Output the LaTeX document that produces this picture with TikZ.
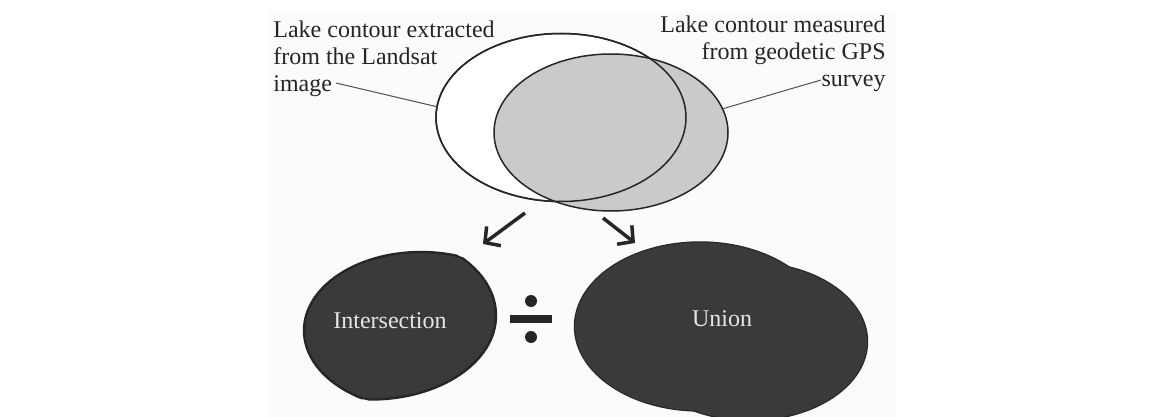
\documentclass[tikz,border=0pt]{standalone}
\usepackage{fontspec}
\setmainfont{Liberation Serif}
\usetikzlibrary{shapes.geometric,arrows.meta}

\definecolor{gpsgray}{HTML}{C9CACC}
\definecolor{blob}{HTML}{3A3A3A}
\definecolor{paper}{HTML}{FBFBFB}
\definecolor{ink}{HTML}{262626}

\newcommand{\landsatpath}{(561,117.5) ellipse [x radius=125, y radius=84]}
\newcommand{\gpspath}{(611,132.5) ellipse [x radius=117, y radius=78.5]}

\begin{document}
\begin{tikzpicture}[x=0.5pt, y=-0.5pt,
        lake/.style={ellipse, draw=ink, line width=0.75pt, inner sep=0pt},
        lbl/.style={inner sep=0pt, text=ink, font=\fontsize{12}{13.5}\selectfont},
        inlbl/.style={text=white!90!black, font=\fontsize{12}{14}\selectfont},
        leader/.style={draw=ink!80, line width=0.5pt},
        pick/.style={-{Straight Barb[length=5.5pt, width=12pt]}, line width=1.75pt, ink},
        ]

      \useasboundingbox (0,0) rectangle (1150,417);
      \fill[paper] (268,12) rectangle (895,417);

      % the two contours
      \node[lake, fill=white, minimum width=125pt, minimum height=84pt] (landsat) at (561,117.5) {};
      \node[lake, fill=gpsgray, minimum width=117pt, minimum height=78.5pt] (gps) at (611,132.5) {};
      \node[lake, minimum width=125pt, minimum height=84pt] (landsatrim) at (landsat) {};

      \node[lbl, anchor=north west, align=left] (ltxt) at (273,20) {Lake contour extracted\\from the Landsat\\image};
      \node[lbl, anchor=north east, align=right] (rtxt) at (886,15) {Lake contour measured\\from geodetic GPS\\survey};

      \coordinate (lend) at (336,83);
      \coordinate (rend) at (821,80);
      \draw[leader] (lend) -- (landsat.175);
      \draw[leader] (rend) -- (gps.12);

      \coordinate (la) at (525,213);
      \coordinate (lb) at (483,244);
      \coordinate (ra) at (603,218);
      \coordinate (rb) at (635,243);
      \draw[pick] (la) -- (lb);
      \draw[pick] (ra) -- (rb);

      % intersection
      \begin{scope}[shift={(-190,198)}]
        \begin{scope}
          \clip \gpspath;
          \fill[blob] \landsatpath;
          \draw[ink, line width=1.2pt] \landsatpath;
        \end{scope}
        \begin{scope}
          \clip \landsatpath;
          \draw[ink, line width=1.2pt] \gpspath;
        \end{scope}
      \end{scope}

      % union
      \begin{scope}[shift={(139,209)}]
        \draw[ink, line width=1.2pt] \landsatpath \gpspath;
        \fill[blob] \landsatpath \gpspath;
      \end{scope}

      % divided by
      \fill[ink] (510,315) rectangle (552,323);
      \fill[ink] (531,301) circle [radius=6];
      \fill[ink] (531,337) circle [radius=6];

      \node[inlbl] (inter) at (390,321) {Intersection};
      \node[inlbl] (union) at (722,319) {Union};
    \end{tikzpicture}
\end{document}
